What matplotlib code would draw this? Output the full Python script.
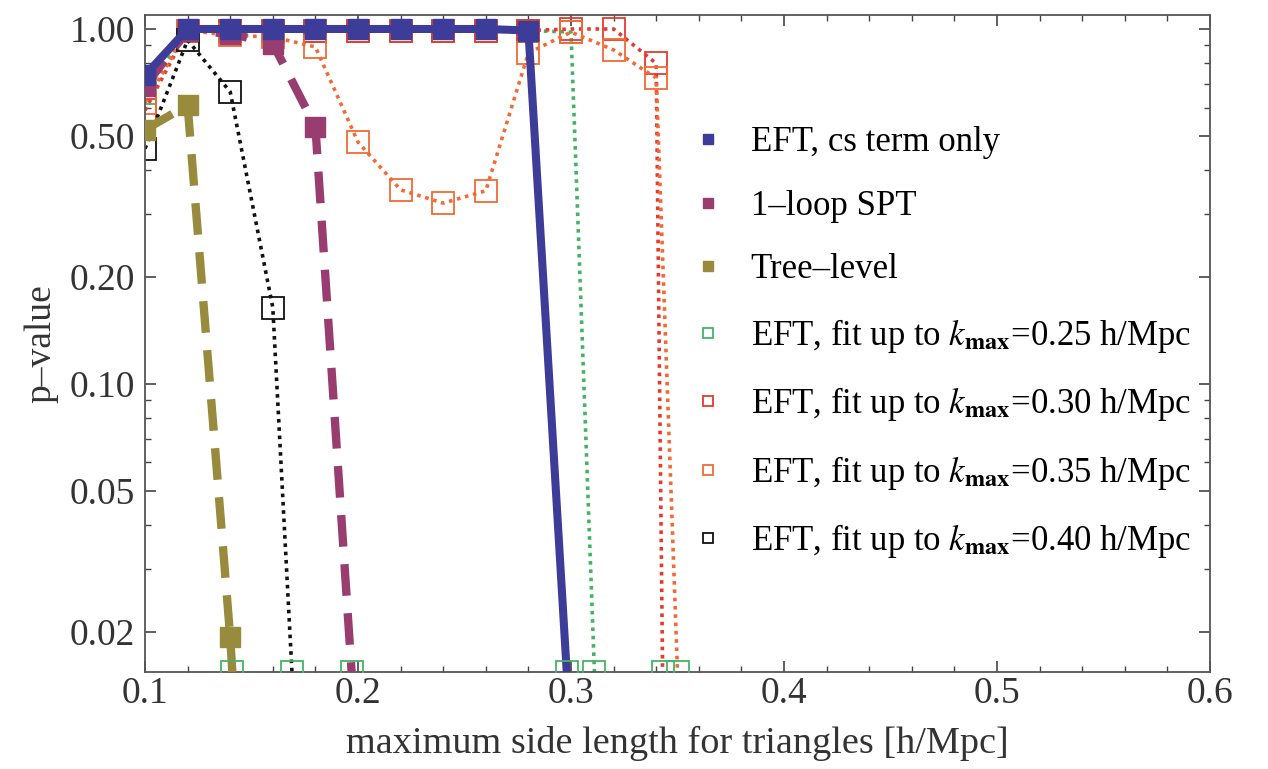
import matplotlib
matplotlib.use("Agg")
import matplotlib.pyplot as plt
from matplotlib.lines import Line2D
from matplotlib.ticker import FixedLocator, NullFormatter

# p-value floor = bottom of the plotted range; the last entry of every
# series is the point where the curve leaves the frame
P_FLOOR = 0.0154

k_cs = [0.10, 0.12, 0.14, 0.16, 0.18, 0.20, 0.22, 0.24, 0.26, 0.28, 0.298]
p_cs = [0.74, 1.0, 1.0, 1.0, 1.0, 1.0, 1.0, 1.0, 1.0, 0.99, P_FLOOR]

k_spt = [0.10, 0.12, 0.14, 0.16, 0.18, 0.197]
p_spt = [0.69, 0.99, 0.97, 0.91, 0.53, P_FLOOR]

k_tree = [0.10, 0.12, 0.14, 0.141]
p_tree = [0.52, 0.61, 0.0193, P_FLOOR]

k_025 = [0.10, 0.12, 0.14, 0.16, 0.18, 0.20, 0.22, 0.24, 0.26, 0.28, 0.30, 0.311]
p_025 = [0.66, 0.99, 0.99, 0.99, 0.99, 0.99, 0.99, 0.99, 0.99, 0.99, 0.98, P_FLOOR]

k_030 = [0.10, 0.12, 0.14, 0.16, 0.18, 0.20, 0.22, 0.24, 0.26, 0.28, 0.30, 0.32, 0.34, 0.343]
p_030 = [0.59, 0.99, 0.99, 0.99, 0.99, 0.99, 0.99, 0.99, 0.99, 0.99, 1.0, 1.0, 0.80, P_FLOOR]

k_035 = [0.10, 0.12, 0.14, 0.16, 0.18, 0.20, 0.22, 0.24, 0.26, 0.28, 0.30, 0.32, 0.34, 0.350]
p_035 = [0.62, 0.99, 0.96, 0.95, 0.89, 0.48, 0.352, 0.323, 0.35, 0.856, 0.98, 0.873, 0.727, P_FLOOR]

k_040 = [0.10, 0.12, 0.14, 0.16, 0.169]
p_040 = [0.46, 0.93, 0.665, 0.164, P_FLOOR]

labels = [
    "EFT, cs term only",
    "1\u2013loop SPT",
    "Tree\u2013level",
    r"EFT, fit up to $k_{\mathbf{max}}$=0.25 h/Mpc",
    r"EFT, fit up to $k_{\mathbf{max}}$=0.30 h/Mpc",
    r"EFT, fit up to $k_{\mathbf{max}}$=0.35 h/Mpc",
    r"EFT, fit up to $k_{\mathbf{max}}$=0.40 h/Mpc",
]

c_blue = "#3d3d99"
c_mag = "#993d71"
c_olive = "#998b3d"
c_green = "#44b464"
c_red = "#e8392e"
c_orange = "#f26a35"
c_black = "#111111"

plt.rcParams["font.family"] = ["Liberation Serif", "DejaVu Serif"]
plt.rcParams["mathtext.fontset"] = "stix"

fig = plt.figure(figsize=(12.68, 7.69), dpi=100)
ax = fig.add_axes([145 / 1268, 1 - 672 / 769, (1210 - 145) / 1268, (672 - 15) / 769])

dot = (0, (1, 1.3))
dash = (0, (3.8, 2.1))
every = slice(0, -1)

# thin dotted fits with open squares
for k, p, c in [(k_025, p_025, c_green), (k_030, p_030, c_red),
                (k_035, p_035, c_orange), (k_040, p_040, c_black)]:
    ax.plot(k, p, color=c, lw=2.6, linestyle=dot, marker="s", markersize=16,
            markerfacecolor="none", markeredgecolor=c, markeredgewidth=1.3,
            markevery=every, zorder=2)

# thick curves with filled squares
ax.plot(k_tree, p_tree, color=c_olive, lw=6, linestyle=dash, dash_capstyle="butt",
        marker="s", markersize=15, markevery=every, zorder=3)
ax.plot(k_spt, p_spt, color=c_mag, lw=6, linestyle=dash, dash_capstyle="butt",
        marker="s", markersize=15, markevery=every, zorder=4)
ax.plot(k_cs, p_cs, color=c_blue, lw=5.8, linestyle="-",
        marker="s", markersize=15, markevery=every, zorder=5)

# where the curves run out of the frame
k_out = [k[-1] for k in (k_cs, k_spt, k_tree, k_025, k_030, k_035, k_040)]
ax.plot(k_out, [P_FLOOR] * len(k_out), linestyle="none", marker="s", markersize=16,
        markerfacecolor="none", markeredgecolor=c_green, markeredgewidth=1.3, zorder=6)

ax.set_yscale("log")
ax.set_xlim(0.1, 0.6)
ax.set_ylim(P_FLOOR, 1.095)

y_major = [0.02, 0.05, 0.1, 0.2, 0.5, 1.0]
y_labels = ["0.02", "0.05", "0.10", "0.20", "0.50", "1.00"]
y_minor = [0.03, 0.04, 0.06, 0.07, 0.08, 0.09, 0.3, 0.4, 0.6, 0.7, 0.8, 0.9]
ax.set_yticks(y_major)
ax.set_yticklabels(y_labels)
ax.yaxis.set_minor_locator(FixedLocator(y_minor))
ax.yaxis.set_minor_formatter(NullFormatter())

x_major = [0.1, 0.2, 0.3, 0.4, 0.5, 0.6]
ax.set_xticks(x_major)
ax.set_xticklabels(["0.1", "0.2", "0.3", "0.4", "0.5", "0.6"])
ax.xaxis.set_minor_locator(FixedLocator([0.1 + 0.02 * i for i in range(26)]))

ax.tick_params(which="both", direction="in", top=True, right=True,
               color="#444444", labelsize=27, labelcolor="#333333")
ax.tick_params(axis="x", pad=3)
ax.tick_params(axis="y", pad=7)
ax.tick_params(which="major", length=8, width=1.2)
ax.tick_params(which="minor", length=4, width=1.0)
for s in ax.spines.values():
    s.set_color("#555555")
    s.set_linewidth(1.3)

ax.set_xlabel("maximum side length for triangles [h/Mpc]", fontsize=27.5, color="#333333", labelpad=11)
ax.set_ylabel("p\u2013value", fontsize=27, color="#333333", labelpad=8)

handles = [Line2D([], [], linestyle="none", marker="s", markersize=7, color=c)
           for c in (c_blue, c_mag, c_olive)]
handles += [Line2D([], [], linestyle="none", marker="s", markersize=7,
                   markerfacecolor="none", markeredgecolor=c, markeredgewidth=1.3)
            for c in (c_green, c_red, c_orange, c_black)]
ax.legend(handles, labels, loc="upper left", bbox_to_anchor=(0.4995, 0.852),
          frameon=False, fontsize=25, handlelength=1.0, handletextpad=0.72,
          labelspacing=0.88, borderaxespad=0)

fig.savefig("out.png", dpi=100)
